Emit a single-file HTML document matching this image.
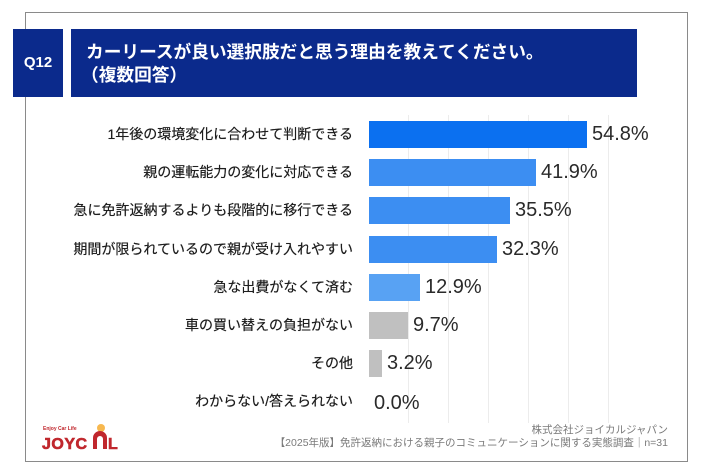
<!DOCTYPE html>
<html><head><meta charset="utf-8">
<style>
*{margin:0;padding:0;box-sizing:border-box}
html,body{width:710px;height:474px;background:#fff;overflow:hidden}
body{position:relative;font-family:"Liberation Sans","Noto Sans CJK JP",sans-serif}
.frame{position:absolute;left:25px;top:12px;width:663px;height:450px;border:1.5px solid #8a8a8a;background:#fff}
.q{position:absolute;left:13px;top:29px;width:50px;height:68px;background:#0b2a8c;color:#fff;font-weight:bold;font-size:15px;line-height:68px;text-align:center}
.tb{position:absolute;left:71px;top:29px;width:566px;height:68px;background:#0b2a8c;color:#fff;font-family:"Liberation Sans","Noto Sans CJK JP",sans-serif;font-weight:bold;font-size:17.7px}
.tb .l1{position:absolute;left:15px;top:12px;line-height:22px;white-space:nowrap}
.tb .l2{position:absolute;left:10px;top:35px;line-height:22px;white-space:nowrap}
.grid{position:absolute;top:115px;height:308px;width:1px;background:#ececec}
.lab{position:absolute;right:357px;font-size:14px;color:#1e1e1e;white-space:nowrap;line-height:20px;font-family:"Liberation Sans","Noto Sans CJK JP",sans-serif;text-shadow:0 0 0.4px #222}
.bar{position:absolute;left:369px;height:27px}
.val{position:absolute;font-size:20px;color:#2a2a2a;line-height:24px;white-space:nowrap}
.f1,.f2{position:absolute;right:42px;font-size:10.5px;color:#7a7a7a;white-space:nowrap;font-family:"Liberation Sans","Noto Sans CJK JP",sans-serif;line-height:13px}
</style></head><body>
<div class="frame"></div>
<div class="q">Q12</div>
<div class="tb"><div class="l1">カーリースが良い選択肢だと思う理由を教えてください。</div><div class="l2">（複数回答）</div></div>

<div class="grid" style="left:408px"></div>
<div class="grid" style="left:448px"></div>
<div class="grid" style="left:488px"></div>
<div class="grid" style="left:528px"></div>
<div class="grid" style="left:568px"></div>
<div class="grid" style="left:608px"></div>

<div class="lab" style="top:124px">1年後の環境変化に合わせて判断できる</div>
<div class="lab" style="top:162px">親の運転能力の変化に対応できる</div>
<div class="lab" style="top:200px">急に免許返納するよりも段階的に移行できる</div>
<div class="lab" style="top:239px">期間が限られているので親が受け入れやすい</div>
<div class="lab" style="top:277px">急な出費がなくて済む</div>
<div class="lab" style="top:315px">車の買い替えの負担がない</div>
<div class="lab" style="top:353px">その他</div>
<div class="lab" style="top:391px">わからない/答えられない</div>

<div class="bar" style="top:121px;width:218px;background:#0b70f0"></div>
<div class="bar" style="top:159px;width:167px;background:#3c8ef2"></div>
<div class="bar" style="top:197px;width:141px;background:#3c8ef2"></div>
<div class="bar" style="top:236px;width:128px;background:#3c8ef2"></div>
<div class="bar" style="top:274px;width:51px;background:#58a2f3"></div>
<div class="bar" style="top:312px;width:39px;background:#c0c0c0"></div>
<div class="bar" style="top:350px;width:13px;background:#c0c0c0"></div>

<div class="val" style="left:592px;top:122px">54.8%</div>
<div class="val" style="left:541px;top:160px">41.9%</div>
<div class="val" style="left:515px;top:198px">35.5%</div>
<div class="val" style="left:502px;top:237px">32.3%</div>
<div class="val" style="left:425px;top:275px">12.9%</div>
<div class="val" style="left:413px;top:313px">9.7%</div>
<div class="val" style="left:387px;top:351px">3.2%</div>
<div class="val" style="left:374px;top:391px">0.0%</div>

<div class="f1" style="top:424px">株式会社ジョイカルジャパン</div>
<div class="f2" style="top:437px">【2025年版】免許返納における親子のコミュニケーションに関する実態調査｜n=31</div>

<svg style="position:absolute;left:40px;top:418px" width="90" height="34" viewBox="0 0 90 34">
<circle cx="61" cy="10" r="4" fill="#f5a623" opacity="0.8"/>
<text x="3" y="12" font-family="Liberation Sans" font-size="5" font-weight="bold" fill="#c0272d">Enjoy Car Life</text>
<text x="2" y="31" font-family="Liberation Sans" font-size="16" font-weight="bold" fill="#c0272d" letter-spacing="0.5" stroke="#c0272d" stroke-width="0.6">JOYC</text>
<path d="M53 31 V20 a7 7 0 0 1 14 0 V31 h-4 V21 a3 3 0 0 0 -6 0 V31 z" fill="#c0272d"/>
<text x="68" y="31" font-family="Liberation Sans" font-size="16" font-weight="bold" fill="#c0272d" stroke="#c0272d" stroke-width="0.6">L</text>
</svg>
</body></html>
